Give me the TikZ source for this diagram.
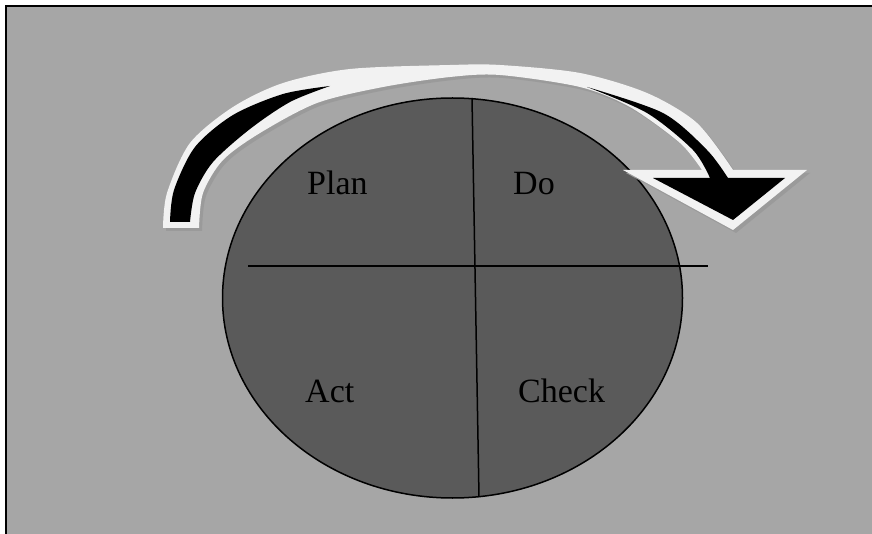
\documentclass[tikz,border=0pt]{standalone}
\usepackage{fontspec}
\setmainfont{Liberation Serif}
\definecolor{bggray}{HTML}{A6A6A6}
\definecolor{ellgray}{HTML}{5A5A5A}
\definecolor{arrwhite}{HTML}{F2F2F2}
\definecolor{shadowgray}{HTML}{9A9A9A}
\tikzset{
  lbl/.style={anchor=base west, inner sep=0pt, font=\fontsize{34}{40}\selectfont},
  divline/.style={draw=black, line width=1.5pt},
}
\begin{document}
\begin{tikzpicture}[x=1pt,y=-1pt]
\useasboundingbox (0,0) rectangle (872,534);
\fill[white] (0,0) rectangle (872,534);
\fill[bggray] (6,6) rectangle (872,534);
\draw[black, line width=2pt] (6,534) -- (6,6) -- (872,6);
% ellipse
\draw[fill=ellgray, line width=1.5pt] (452.5,298) ellipse [x radius=230, y radius=200];
\coordinate (vt) at (472,98);
\coordinate (vb) at (479,497);
\coordinate (hl) at (248,266);
\coordinate (hr) at (708,266);
\draw[divline] (vt) -- (vb);
\draw[divline] (hl) -- (hr);
% arrow shadow
\begin{scope}[shift={(3,3)}]
\fill[shadowgray] plot[smooth] coordinates {(163,228) (167,193) (190,143) (233,107) (283,83) (350,69) (450,65) (500,65) (580,73) (647,93) (697,123) (733,170)}
  -- (807,170) -- (733,230) -- (623,170) -- (702,170)
  -- plot[smooth] coordinates {(702,170) (680,143) (630,107) (580,87) (500,75) (450,77) (383,87) (317,103) (260,133) (223,160) (203,193) (199,228)} -- cycle;
\end{scope}
% arrow white outline
\fill[arrwhite] plot[smooth] coordinates {(163,228) (167,193) (190,143) (233,107) (283,83) (350,69) (450,65) (500,65) (580,73) (647,93) (697,123) (733,170)}
  -- (807,170) -- (733,230) -- (623,170) -- (702,170)
  -- plot[smooth] coordinates {(702,170) (680,143) (630,107) (580,87) (500,75) (450,77) (383,87) (317,103) (260,133) (223,160) (203,193) (199,228)} -- cycle;
% black fill pieces
\fill[black] plot[smooth] coordinates {(170,222) (174,190) (195,147) (233,115) (283,94) (330,86)}
  -- plot[smooth] coordinates {(330,86) (290,102) (250,129) (213,162) (195,193) (190,222)} -- cycle;
\fill[black] plot[smooth] coordinates {(587,87) (663,113) (707,150) (728,178)}
  -- (785,178) -- (733,220) -- (653,178) -- (710,178)
  -- plot[smooth] coordinates {(710,178) (693,150) (647,113) (587,87)} -- cycle;
% labels
\node[lbl] (plan) at (307,195) {Plan};
\node[lbl] (do) at (513,195) {Do};
\node[lbl] (act) at (305,402) {Act};
\node[lbl] (check) at (518,402) {Check};
\end{tikzpicture}
\end{document}
